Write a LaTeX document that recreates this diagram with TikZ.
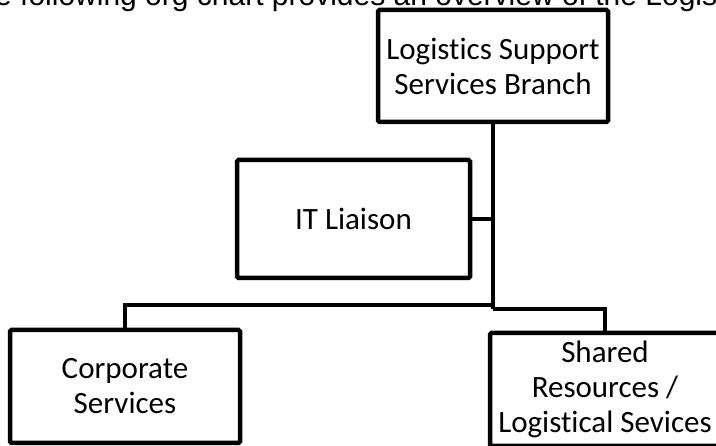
\documentclass[tikz,border=0pt]{standalone}
\usepackage{fontspec}
\setmainfont{Carlito}[Ligatures={NoCommon}]
\newfontfamily\headfont{Liberation Sans}
\begin{document}
\begin{tikzpicture}[x=1pt,y=-1pt,
  orgbox/.style={draw=black,line width=4.5pt,rounded corners=1.5pt,fill=white,inner sep=0pt,
    align=center,font=\fontsize{31}{35}\selectfont,minimum width=230pt},
  link/.style={draw=black,line width=4.5pt}]
\useasboundingbox (0,0) rectangle (716,446);
\fill[white] (0,0) rectangle (716,446);
\node[anchor=base west,inner sep=0pt,font=\headfont\fontsize{30}{34}\selectfont] (intro) at (-40,6)
  {The following org chart provides an overview of the Logistics Support};
\node[orgbox,minimum height=112pt] (top) at (493,66) {Logistics Support\\Services Branch};
\node[orgbox,minimum width=233pt,minimum height=118pt] (it) at (353.5,219) {IT Liaison};
\node[orgbox,minimum height=113pt] (corp) at (125,386.5) {Corporate\\Services};
\node[orgbox,minimum height=113pt] (shared) at (605,389.5) {Shared\\Resources /\\Logistical Sevices};
\coordinate (j1) at (493,305);
\coordinate (j2) at (493,309);
\draw[link] (top.south) -- (j2);
\draw[link] (it.east) -- (it.east -| top.south);
\draw[link] (j1) -| (corp.north);
\draw[link] (j2) -| (shared.north);
\end{tikzpicture}
\end{document}
